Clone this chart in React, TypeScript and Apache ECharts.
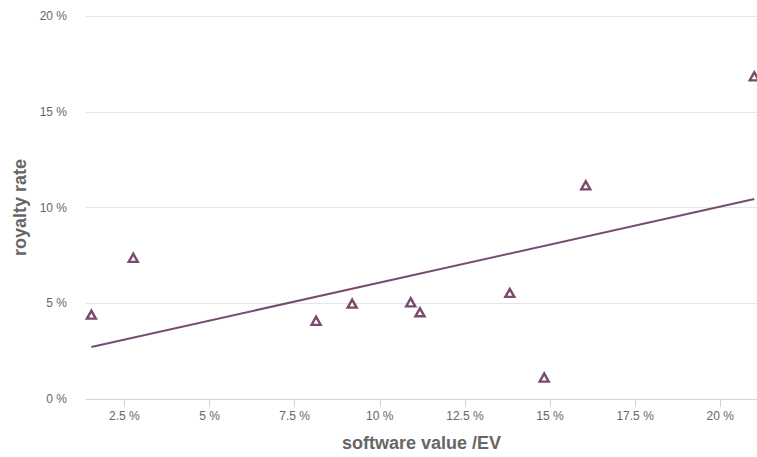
import React, { useEffect, useRef } from "react";
import * as echarts from "echarts";

const xTicks = [2.5, 5, 7.5, 10, 12.5, 15, 17.5, 20];
const yTicks = [0, 5, 10, 15, 20];
const softwareValue = [1.53, 2.76, 8.13, 9.19, 10.91, 11.18, 13.82, 14.83, 16.05, 21.0];
const royaltyRate = [4.4, 7.37, 4.08, 4.98, 5.05, 4.53, 5.54, 1.12, 11.16, 16.85];
const trendX = [1.53, 21.0];
const trendY = [2.72, 10.44];

const COLOR = "#7a4b6f";
const FONT = "'Liberation Sans', Arial, Helvetica, sans-serif";

export default function App() {
  const ref = useRef<HTMLDivElement>(null);
  useEffect(() => {
    if (!ref.current) return;
    const chart = echarts.init(ref.current, null, { renderer: "svg" });
    chart.setOption({
      animation: false,
      grid: { left: 86, right: 0, top: 16, bottom: 54, containLabel: false },
      xAxis: {
        type: "value",
        min: 1.372,
        max: 21.08,
        name: "software value /EV",
        nameLocation: "middle",
        nameGap: 35,
        nameTextStyle: { fontFamily: FONT, fontSize: 18, fontWeight: "bold", color: "#666666" },
        axisLine: { show: true, lineStyle: { color: "#ccd6eb", width: 1 } },
        axisTick: { show: true, length: 8, customValues: xTicks, lineStyle: { color: "#ccd6eb" } },
        axisLabel: {
          customValues: xTicks,
          margin: 11,
          color: "#666666",
          fontFamily: FONT,
          fontSize: 12,
          formatter: (v: number) => `${v} %`,
        },
        splitLine: { show: false },
      },
      yAxis: {
        type: "value",
        min: yTicks[0],
        max: yTicks[yTicks.length - 1],
        interval: 5,
        name: "royalty rate",
        nameLocation: "middle",
        nameGap: 57,
        nameRotate: 90,
        nameTextStyle: { fontFamily: FONT, fontSize: 18, fontWeight: "bold", color: "#666666" },
        axisLine: { show: false },
        axisTick: { show: false },
        axisLabel: {
          margin: 19,
          color: "#666666",
          fontFamily: FONT,
          fontSize: 12,
          formatter: (v: number) => `${v} %`,
        },
        splitLine: { show: true, lineStyle: { color: "#e6e6e6", width: 1 } },
      },
      series: [
        {
          type: "line",
          data: trendX.map((x, i) => [x, trendY[i]]),
          symbol: "none",
          lineStyle: { color: COLOR, width: 2 },
          z: 2,
        },
        {
          type: "scatter",
          data: softwareValue.map((x, i) => [x, royaltyRate[i]]),
          symbol: "triangle",
          symbolSize: [9, 8],
          itemStyle: { color: "#ffffff", borderColor: COLOR, borderWidth: 2.4, opacity: 1 },
          clip: false,
          z: 3,
        },
      ],
    });
    return () => chart.dispose();
  }, []);
  return <div ref={ref} style={{ width: 757, height: 457, position: "absolute", left: 0, top: 0 }} />;
}
